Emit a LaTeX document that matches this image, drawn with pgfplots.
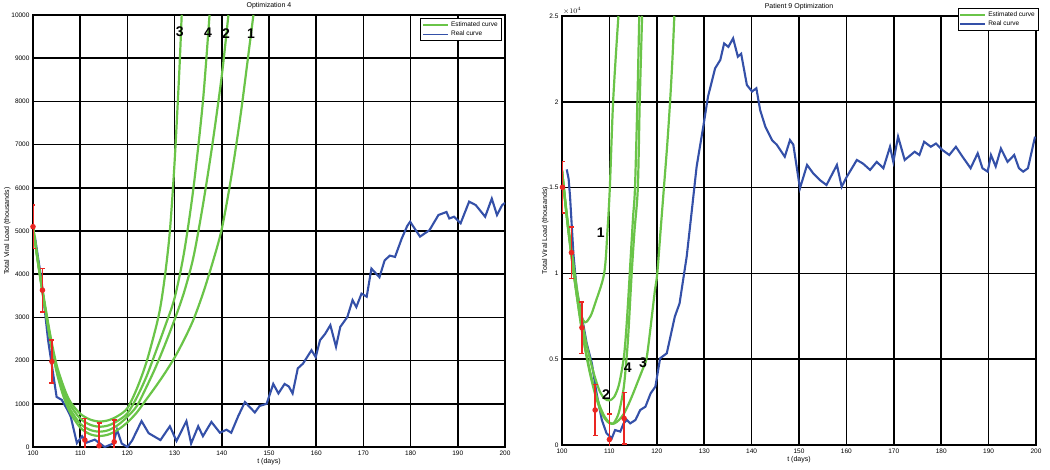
\documentclass[border=0pt]{standalone}
\usepackage{fontspec}
\setmainfont{Liberation Sans}
\usepackage{pgfplots}
\pgfplotsset{compat=1.18}
\definecolor{estgreen}{RGB}{106,196,72}
\definecolor{realblue}{RGB}{52,80,168}
\definecolor{errred}{RGB}{234,38,34}

\tikzset{numlab/.style={font=\bfseries\fontsize{14}{14}\selectfont, inner sep=0pt}}

\pgfplotsset{
  panel/.style={
    scale only axis,
    anchor=south west,
    clip mode=individual,
    xmin=100, xmax=200,
    xtick={100,110,...,200},
    grid=major,
    major grid style={black,line width=1.7pt},
    axis line style={black,line width=1.8pt},
    major tick length=0pt,
    tick label style={font=\fontsize{6.5}{7}\selectfont},
    /pgf/number format/assume math mode=true,
    /pgf/number format/set thousands separator={},
    scaled ticks=false,
    title style={font=\fontsize{7}{8}\selectfont, yshift=-3pt},
    label style={font=\fontsize{7}{8}\selectfont},
    xlabel={t (days)},
    ylabel={Total Viral Load (thousands)},
    xlabel style={yshift=4pt},
    ylabel style={yshift=-6pt},
    legend style={draw=black, line width=1pt, fill=white,
      font=\fontsize{6.5}{7}\selectfont, inner sep=1.5pt,
      row sep=-1pt, cells={anchor=west}},
    legend image code/.code={\draw[##1] (0pt,0pt) -- (25pt,0pt);},
  },
  est/.style={estgreen, line width=2.2pt, forget plot},
  real/.style={realblue, line width=2.1pt, forget plot},
  meas/.style={errred, mark=*, mark size=2pt, line width=1.5pt, only marks, forget plot,
    error bars/.cd, y dir=both, y explicit,
    error bar style={errred, line width=1.5pt},
    error mark=|, error mark options={errred, line width=1.5pt, mark size=2.5pt}},
}

\begin{document}
\begin{tikzpicture}
\path[use as bounding box] (0,0) rectangle (1050pt,469pt);

% ---------------- left panel ----------------
\begin{axis}[panel, at={(33pt,22pt)}, width=472pt, height=432pt,
  ymin=0, ymax=10000, ytick={0,1000,...,10000},
  title={Optimization 4},
  legend style={at={(rel axis cs:0.993,0.993)}, anchor=north east}]
\addlegendimage{estgreen, line width=1.6pt}
\addlegendentry{Estimated curve}
\addlegendimage{realblue, line width=1.6pt}
\addlegendentry{Real curve}

\addplot[real] coordinates {
(100.4,4870) (101.8,3860) (103.2,2470) (105,1160) (106.1,1090) (107.3,860)
(108,700) (109.3,90) (110.4,250) (111.3,100) (113.1,170) (115.2,0) (117,80)
(117.8,400) (118.8,80) (120,0) (121,150) (123,600) (124.5,320) (127,160)
(129,480) (130.4,140) (132.5,600) (133.5,80) (135,480) (136,250) (137.8,580)
(139.6,330) (141,400) (142,330) (143.5,720) (144.9,1040) (147,800) (148,950)
(149.5,1000) (150.9,1460) (152,1240) (153.3,1460) (154.2,1400) (155,1240)
(156.1,1820) (157.2,1930) (159,2240) (159.9,2080) (160.8,2470) (161.9,2620)
(163,2820) (164.2,2320) (165.1,2780) (166.6,3010) (167.7,3400) (168.5,3240)
(169.6,3550) (170.7,3480) (171.7,4130) (173.4,3930) (174.5,4320) (175.6,4430)
(176.7,4400) (178.1,4820) (179.3,5120) (179.9,5215) (182,4870) (184,5020)
(185.9,5370) (187.6,5440) (188.2,5290) (189.2,5330) (190.6,5180) (192.4,5680)
(193.8,5600) (195.8,5330) (197.2,5750) (198.3,5370) (199.4,5600) (200,5650)
};

% curve 1
\addplot[est, smooth] coordinates {
(100,5100) (101,4300) (102,3580) (103,2900) (104,2260) (105,1740) (106,1330)
(107,1010) (108,770) (110,450) (112,300) (114,255) (116,290) (118,400)
(120,570) (122,800) (124,1100) (126,1400) (128,1720) (130,2070) (132,2480)
(134,2950) (136,3550) (138,4250) (140,5050) (142,6250) (144,7700) (146,9400)
(146.7,10000)
};
% curve 2
\addplot[est, smooth] coordinates {
(100,5100) (101,4320) (102,3600) (103,2920) (104,2290) (105,1780) (106,1390)
(107,1080) (108,850) (110,540) (112,400) (114,355) (116,390) (118,510)
(120,700) (122,950) (124,1380) (126,1850) (128,2380) (130,2950) (132,3580)
(134,4400) (136,5600) (138,7000) (140,8600) (141.4,10000)
};
% curve 4
\addplot[est, smooth] coordinates {
(100,5100) (101,4330) (102,3620) (103,2950) (104,2330) (105,1830) (106,1460)
(107,1170) (108,950) (110,660) (112,520) (114,470) (116,500) (118,610)
(120,780) (122,1150) (124,1620) (126,2200) (128,2800) (130,3450) (132,4500)
(134,6000) (136,8000) (137.4,10000)
};
% curve 3
\addplot[est, smooth] coordinates {
(100,5100) (101,4350) (102,3650) (103,3000) (104,2400) (105,1900) (106,1550)
(107,1250) (108,1030) (110,770) (112,640) (114,590) (116,620) (118,720)
(120,900) (122,1350) (124,1950) (126,2750) (127,3250) (128,4000) (129,5000)
(130,6600) (131,8700) (131.5,10000)
};

\addplot[meas] coordinates {
(100,5100) +- (0,500)
(102,3630) +- (0,500)
(104,1980) +- (0,500)
(111,160) +- (0,500)
(114,30) +- (0,520)
(117.2,120) +- (0,500)
};

\node[numlab] at (axis cs:131.1,9620) {3};
\node[numlab] at (axis cs:137.1,9580) {4};
\node[numlab] at (axis cs:140.9,9580) {2};
\node[numlab] at (axis cs:146.2,9560) {1};
\end{axis}

% ---------------- right panel ----------------
\begin{axis}[panel, at={(562pt,24pt)}, width=474pt, height=429pt,
  ymin=0, ymax=25000, ytick={0,5000,...,25000},
  yticklabels={0,0.5,1,1.5,2,2.5},
  title={Patient 9 Optimization},
  legend style={at={(rel axis cs:1.006,1.019)}, anchor=north east}]
\addlegendimage{estgreen, line width=1.6pt}
\addlegendentry{Estimated curve}
\addlegendimage{realblue, line width=1.6pt}
\addlegendentry{Real curve}

\addplot[real] coordinates {
(101.0,16060) (101.4,15500) (101.7,14470) (102.4,11170) (103.1,9030)
(104.2,7480) (105.2,5930) (106.3,4760) (107.3,3010) (108.4,1460) (109.4,680)
(110.5,390) (111.2,870) (112.3,780) (113,1260) (113.7,1460) (114.4,1260)
(115.5,1460) (116.5,2040) (117.6,2230) (118.7,3010) (119.7,3400) (120.7,5050)
(122.1,5340) (123.8,7480) (124.8,8250) (126.3,10970) (127.4,13700)
(128.4,16220) (129.8,18550) (130.8,20300) (132.3,21950) (133.4,22440)
(134.2,23400) (135.1,23200) (136.1,23700) (137.1,22630) (137.8,22800)
(139,20980) (140.1,20600) (141,20790) (141.8,19520) (142.9,18550)
(144.3,17770) (145.3,17500) (147,16800) (148.1,17770) (148.8,17500)
(150.2,14960) (151.7,16320) (153,15830) (154.4,15440) (155.8,15150)
(158,16320) (159,15050) (160.1,15640) (162.2,16610) (163.5,16400)
(165,16030) (166.4,16500) (167.8,16130) (169.2,17380) (169.9,16500)
(170.9,17970) (172.3,16610) (174.4,17090) (175.4,16900) (176.4,17670)
(177.8,17380) (178.9,17570) (180.3,17180) (181.7,16900) (183.1,17380)
(184.5,16800) (186.2,16130) (187.7,17000) (188.7,16130) (189.8,15930)
(190.5,16900) (191.5,16230) (192.6,17280) (194,16500) (195.4,16900)
(196.4,16130) (197.3,15930) (198.3,16130) (199.8,17970)
};

% curve 1
\addplot[est, smooth] coordinates {
(100,16000) (101,13300) (102,11000) (103,9000) (104,7600) (104.9,7150)
(106,7500) (107,8260) (108.9,10000) (109.6,12530) (110.1,15050)
(110.8,20100) (111.9,25000)
};
% curve 2
\addplot[est, smooth] coordinates {
(100,16000) (101,13500) (102,11400) (103,9400) (104,7600) (105,6100)
(106,4900) (107,3900) (108,3100) (109,2700) (110,2600) (111,2800)
(112,3500) (113,5000) (113.5,6500) (114,8600) (114.5,11000) (115,13300)
(115.4,15000) (115.9,20000) (116.3,25000)
};
% curve 4
\addplot[est, smooth] coordinates {
(100,16000) (101,13400) (102,11100) (103,9000) (104,7100) (105,5500)
(106,4200) (107,3100) (108,2250) (109,1650) (110,1300) (110.5,1250)
(111,1300) (112,1900) (113,3300) (113.6,5000) (114,6500) (114.7,10000)
(115.3,12500) (116,15000) (116.4,20000) (116.9,25000)
};
% curve 3
\addplot[est, smooth] coordinates {
(100,16000) (101,13300) (102,11000) (103,8900) (104,7000) (105,5400)
(106,4050) (107,2950) (108,2100) (109,1550) (110,1270) (111,1250)
(112,1450) (113,1800) (114,2350) (115,3000) (116,3700) (117,4400)
(117.8,5000) (118.4,6200) (119,7600) (119.6,9000) (120.1,10000)
(120.8,12500) (121.5,15000) (122.2,17500) (122.8,20000) (123.3,22500)
(123.7,25000)
};

\addplot[meas] coordinates {
(100.1,15020) +- (0,1500)
(102,11210) +- (0,1500)
(104.2,6840) +- (0,1500)
(107,2040) +- (0,1500)
(110,320) +- (0,1500)
(113.1,1550) +- (0,1500)
};

\node[font=\fontsize{7}{8}\selectfont, anchor=south west, inner sep=1pt]
  at (rel axis cs:0,1) {$\times 10^4$};
\node[numlab] at (axis cs:108.2,12350) {1};
\node[numlab] at (axis cs:109.3,2910) {2};
\node[numlab] at (axis cs:113.9,4490) {4};
\node[numlab] at (axis cs:117.1,4780) {3};
\end{axis}
\end{tikzpicture}
\end{document}
